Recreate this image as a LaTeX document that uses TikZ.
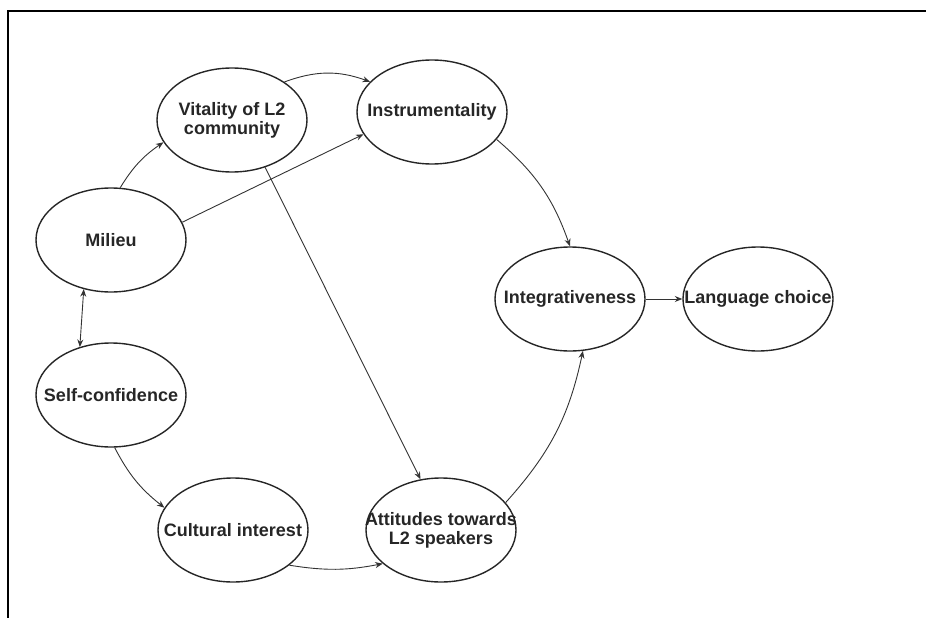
\documentclass[tikz,border=0pt]{standalone}
\usepackage{fontspec}
\setmainfont{Liberation Sans}
\usetikzlibrary{shapes.geometric,arrows.meta}

\begin{document}
\begin{tikzpicture}[x=1pt,y=1pt,
  state/.style={draw=black!85, line width=1.4pt, ellipse,
    minimum width=150pt, minimum height=104pt, inner sep=0pt},
  caption/.style={font=\fontsize{18}{19}\selectfont\bfseries,
    text=black!85, align=center, inner sep=0pt},
  tip/.tip={Stealth[length=7.5pt,width=6pt]},
  link/.style={draw=black!80, line width=0.9pt, -tip},
]
\useasboundingbox (0,0) rectangle (926,-618);

% partial frame: top and left edges
\draw[line width=2pt] (8,-618) -- (8,-11) -- (926,-11);

% concepts
\node[state, label={[caption]center:Vitality of L2\\community}] (vit) at (232,-120) {};
\node[state, label={[caption]center:Instrumentality}] (ins) at (432,-112) {};
\node[state, label={[caption]center:Milieu}] (mil) at (111,-240) {};
\node[state, label={[caption]center:Self-confidence}] (self) at (111,-395) {};
\node[state, label={[caption]center:Cultural interest}] (cul) at (233,-530) {};
\node[state, label={[caption]center:Attitudes towards\\L2 speakers}] (att) at (441,-530) {};
\node[state, label={[caption]center:Integrativeness}] (int) at (570,-299) {};
\node[state, label={[caption]center:Language choice}] (lang) at (758,-299) {};

% relations
\draw[link] (mil.80) to[bend left=12] (vit.198);
\draw[link] (vit.36) to[bend left=20] (ins.154);
\draw[link] (mil.14) -- (ins.198);
\draw[link] (vit.305) -- (att.112);
\draw[link] (ins.-23) to[bend left=15] (int.90);
\draw[link, tip-tip] (mil.241) -- (self.123);
\draw[link] (self.274) to[bend right=12] (cul.162);
\draw[link] (cul.-32) to[bend right=10] (att.210);
\draw[link] (att.23) to[bend right=15] (int.284);
\draw[link] (int.east) -- (lang.west);
\end{tikzpicture}
\end{document}
